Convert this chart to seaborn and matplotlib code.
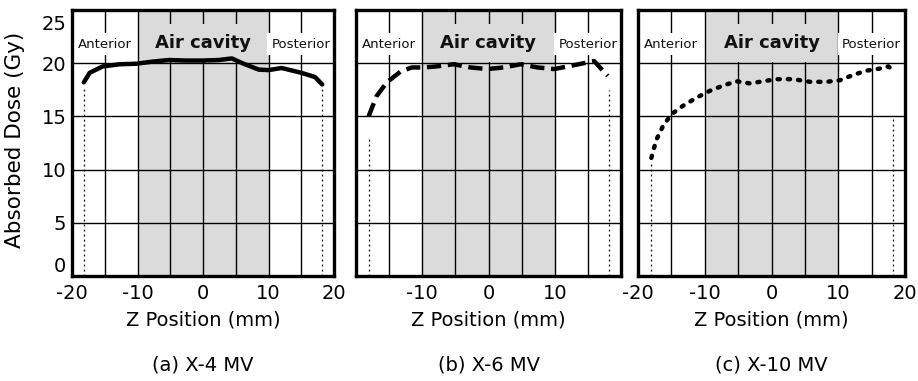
import numpy as np
import pandas as pd
import matplotlib
matplotlib.use("Agg")
import matplotlib.pyplot as plt
import matplotlib.transforms as mtransforms
import seaborn as sns

# ---------------- data ----------------
z_4mv = [-18.2, -17.3, -15.3, -12.7, -10.2, -7.7, -5.2, -2.6, 0.0, 2.4, 4.4, 6.0, 8.5, 10.0, 12.0, 15.0, 17.1, 18.2]
dose_4mv = [18.2, 19.1, 19.7, 19.9, 19.95, 20.15, 20.3, 20.25, 20.25, 20.3, 20.45, 20.0, 19.4, 19.35, 19.55, 19.1, 18.7, 18.0]

z_6mv = [-18.1, -16.9, -15.35, -13.3, -11.6, -9.8, -7.8, -5.3, -2.7, -0.2, 2.3, 4.85, 7.4, 9.9, 12.4, 15.95, 18.0]
dose_6mv = [15.0, 16.9, 18.2, 19.2, 19.6, 19.6, 19.7, 19.9, 19.6, 19.45, 19.6, 19.9, 19.6, 19.45, 19.75, 20.2, 18.8]

z_10mv = [-18.0, -17.25, -16.25, -15.0, -13.25, -11.25, -9.25, -7.25, -5.25, -3.25, -1.25, 0.75, 3.25, 5.75, 8.25, 10.25, 12.25, 14.25, 16.25, 17.5, 18.1]
dose_10mv = [11.1, 12.8, 14.1, 15.2, 16.0, 16.75, 17.4, 17.9, 18.3, 18.1, 18.3, 18.5, 18.5, 18.25, 18.25, 18.4, 18.9, 19.3, 19.5, 19.7, 19.4]

# guide (dotted) lines: x positions and their top dose values
guide_x_4mv = [-18.2, 18.2]
guide_top_4mv = [17.8, 17.8]
guide_x_6mv = [-18.0, 18.2]
guide_top_6mv = [13.1, 17.5]
guide_x_10mv = [-18.0, 18.2]
guide_top_10mv = [10.6, 15.0]

subtitles = ["(a) X-4 MV", "(b) X-6 MV", "(c) X-10 MV"]
region_labels = ["Anterior", "Air cavity", "Posterior"]
region_x = [-15, 0, 15]
cavity_span = [-10, 10]
x_major = [-20, -10, 0, 10, 20]
x_minor = [-15, -5, 5, 15]
y_ticks = [0, 5, 10, 15, 20, 25]
xlabel = "Z Position (mm)"
ylabel = "Absorbed Dose (Gy)"

# ---------------- style ----------------
sns.set_theme(style="white")
plt.rcParams['font.family'] = ['DejaVu Sans']
plt.rcParams['font.size'] = 14
plt.rcParams['text.color'] = 'black'
plt.rcParams['axes.labelcolor'] = 'black'
plt.rcParams['xtick.color'] = 'black'
plt.rcParams['ytick.color'] = 'black'

fig = plt.figure(figsize=(9.18, 3.81), dpi=100)
W, H = 918, 381
def rect(l, r, t, b):
    return [l / W, 1 - b / H, (r - l) / W, (b - t) / H]

axes = [fig.add_axes(rect(72, 334, 10, 276)),
        fig.add_axes(rect(356, 621, 10, 276)),
        fig.add_axes(rect(638, 905, 10, 276))]

series = [(z_4mv, dose_4mv, '-', guide_x_4mv, guide_top_4mv),
          (z_6mv, dose_6mv, (0, (3.2, 1.5)), guide_x_6mv, guide_top_6mv),
          (z_10mv, dose_10mv, (0, (0.5, 1.8)), guide_x_10mv, guide_top_10mv)]

shade = '#dbdbdb'
for i, ax in enumerate(axes):
    z, d, ls, gx, gt = series[i]
    ax.set_xlim(-20, 20)
    ax.set_ylim(0, 25)
    ax.axvspan(cavity_span[0], cavity_span[1], color=shade, zorder=0.2, lw=0)
    ax.set_xticks(x_major)
    ax.set_xticks(x_minor, minor=True)
    ax.set_yticks(y_ticks)
    ax.set_axisbelow(True)
    ax.grid(True, which='both', axis='x', color='black', lw=1.0)
    ax.grid(True, which='major', axis='y', color='black', lw=1.0)
    ax.tick_params(axis='both', which='both', length=0, labelsize=14, colors='black')
    ax.tick_params(axis='x', pad=6)
    ax.tick_params(axis='y', pad=4)
    for sp in ax.spines.values():
        sp.set_visible(True)
        sp.set_color('black')
        sp.set_linewidth(2.4)
        sp.set_zorder(6)

    df = pd.DataFrame({"z": z, "dose": d})
    sns.lineplot(data=df, x="z", y="dose", ax=ax, color='black', sort=False,
                 estimator=None, linewidth=3.2, zorder=5)
    line = ax.lines[-1]
    line.set_linestyle(ls)
    line.set_dash_capstyle('round' if i == 2 else 'butt')

    ax.vlines(gx, [0, 0], gt, colors='black', linestyles=(0, (1.5, 2.5)), lw=0.9, zorder=4)

    for lab, xx in zip(region_labels, region_x):
        if lab == "Air cavity":
            ax.text(xx, 21.45, lab, ha='center', va='baseline', fontsize=13, fontweight='bold',
                    color='#111111', zorder=3,
                    bbox=dict(boxstyle='square,pad=0.55', fc=shade, ec='none'))
        else:
            ax.text(xx, 21.45, lab, ha='center', va='baseline', fontsize=9.5, color='#111111',
                    zorder=3, bbox=dict(boxstyle='square,pad=0.35', fc='white', ec='none'))

    ax.set_xlabel(xlabel, fontsize=14, color='black')
    ax.xaxis.set_label_coords(0.5, -0.13)
    ax.set_ylabel("")
    ax.text(0.5, -0.335, subtitles[i], transform=ax.transAxes, ha='center', va='center',
            fontsize=14, color='black')

    if i == 0:
        ax.set_yticklabels([str(v) for v in y_ticks])
        ax.set_ylabel(ylabel, fontsize=15.5, color='black')
        ax.yaxis.set_label_coords(-0.18, 0.51)
        labs = ax.get_yticklabels()
        off_top = mtransforms.ScaledTranslation(0, -13 / 100, fig.dpi_scale_trans)
        off_bot = mtransforms.ScaledTranslation(0, 11 / 100, fig.dpi_scale_trans)
        labs[-1].set_transform(labs[-1].get_transform() + off_top)
        labs[0].set_transform(labs[0].get_transform() + off_bot)
    else:
        ax.set_yticklabels([])
    if i == 1:
        ax.set_xticklabels(["", "-10", "0", "10", ""])
    else:
        ax.set_xticklabels([str(v) for v in x_major])

fig.savefig("out.png", dpi=100, facecolor='white')
